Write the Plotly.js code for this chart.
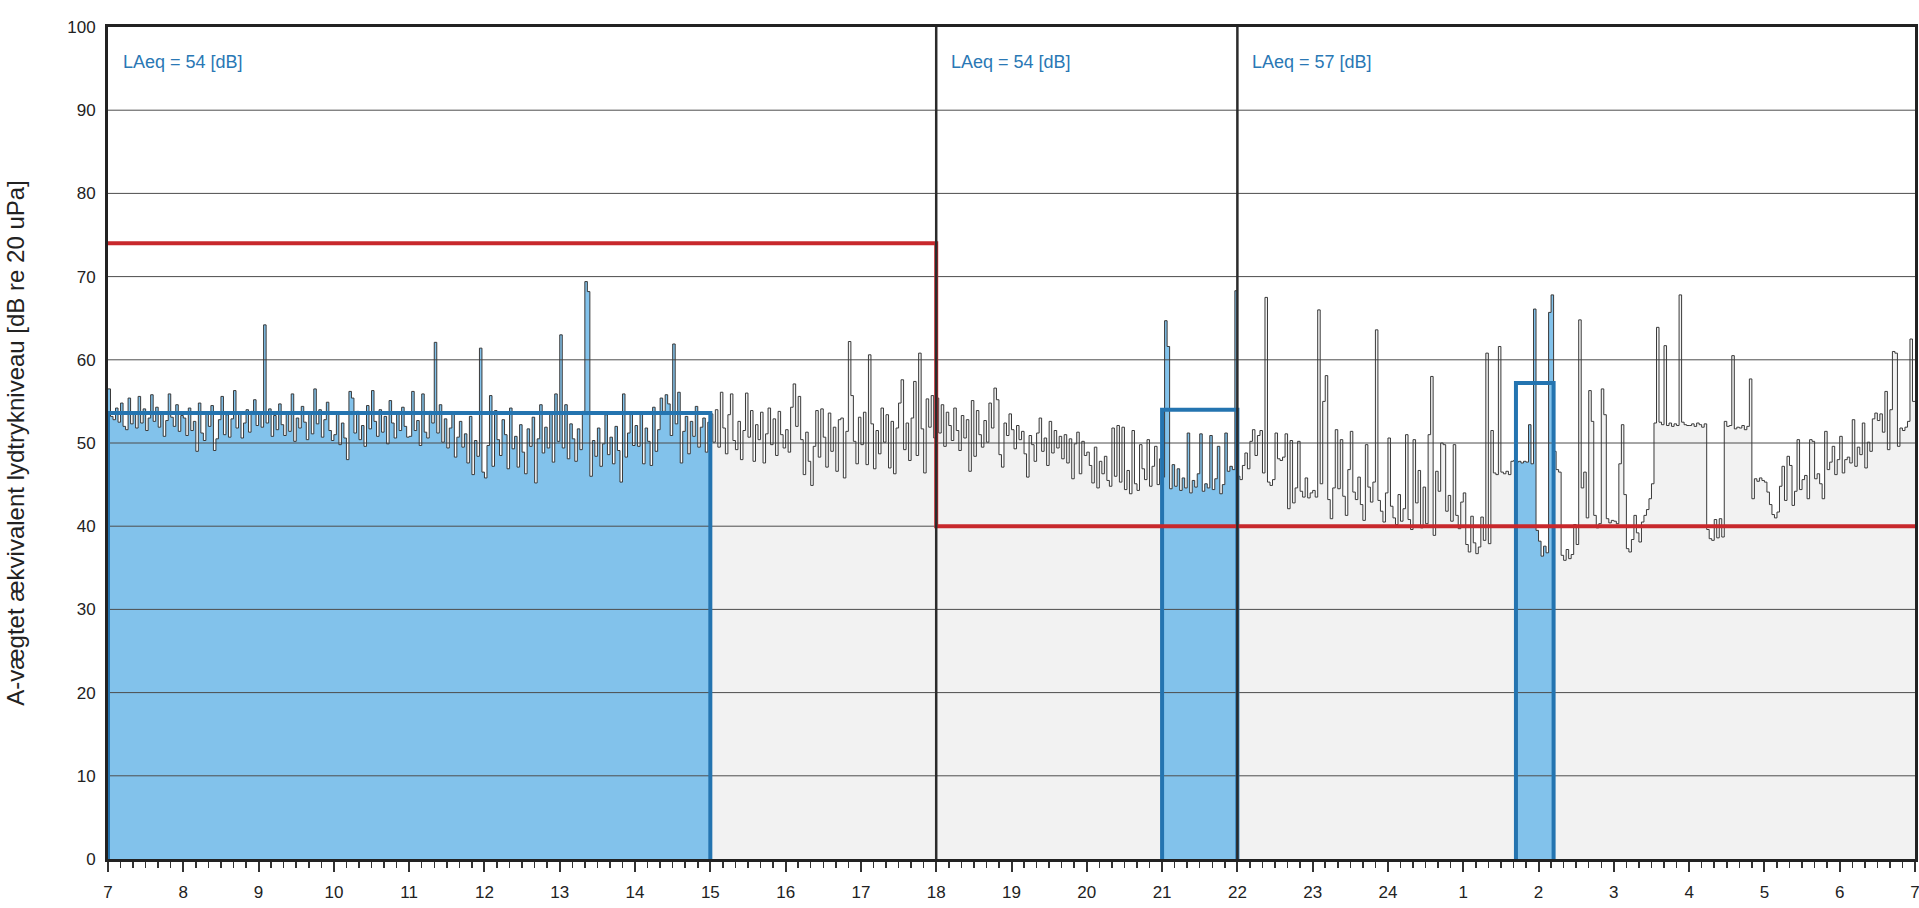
<!DOCTYPE html>
<html>
<head>
<meta charset="utf-8">
<script src="https://cdn.plot.ly/plotly-3.0.1.min.js"></script>
<style>html,body{margin:0;padding:0;background:#fff;}#chart{width:1919px;height:908px;}</style>
</head>
<body>
<div id="chart"></div>
<script>
// ---- data (2-minute LAeq values, dB) ----
const stepsPerHour = 30;
const startHour = 7;

const day1 = [ // 07-11
 56.5,53.2,52.8,54.2,52.5,54.8,52.0,51.6,55.4,52.3,53.7,51.8,55.6,52.4,54.1,51.5,53.0,55.8,52.6,54.3,51.9,53.5,50.8,52.7,55.9,53.1,52.0,54.6,51.4,53.3,
 53.0,50.9,54.2,51.5,52.6,49.0,54.8,51.2,50.3,53.7,52.0,54.5,49.1,50.5,52.8,55.6,51.0,53.4,50.7,52.9,56.3,51.8,53.5,50.6,52.4,54.0,51.3,53.8,55.2,52.1,
 53.6,51.9,64.2,52.4,54.1,50.8,53.3,51.6,54.7,52.2,50.9,53.5,51.4,55.9,50.2,53.0,51.8,54.4,52.5,50.4,53.7,51.1,56.5,52.3,54.0,50.7,52.8,54.9,51.5,50.3,
 51.0,53.6,49.8,52.4,50.6,48.0,56.2,55.4,51.2,53.8,50.4,52.1,49.6,54.5,51.7,56.3,52.6,50.8,54.0,51.3,53.2,49.9,55.1,52.4,50.6,53.7,51.5,54.3,52.0,50.7
];
const day2 = [ // 11-15
 50.8,56.2,51.5,52.7,49.7,55.9,51.3,50.6,53.8,52.4,62.1,51.2,54.6,50.1,52.9,49.4,51.8,53.5,48.3,50.7,52.6,49.5,51.1,47.6,53.2,46.2,50.3,48.4,61.4,46.5,
 45.8,49.7,55.7,47.2,53.9,50.4,48.5,52.8,51.0,46.9,54.2,49.3,50.8,47.1,52.2,48.9,46.3,51.7,49.6,53.1,45.2,50.5,54.6,48.8,51.9,49.4,53.5,47.7,55.9,50.2,
 63.0,49.4,54.6,48.1,52.3,50.5,47.8,51.7,49.2,53.8,69.4,68.2,46.0,50.3,48.4,51.8,47.2,49.9,53.4,48.6,50.7,47.5,52.0,49.1,45.3,55.9,48.3,51.2,53.6,49.7,
 52.1,49.6,53.5,47.5,51.8,50.2,47.3,54.3,49.0,51.6,55.4,53.8,55.8,54.7,50.9,61.9,52.3,56.1,47.6,51.4,53.2,48.7,52.6,50.8,54.4,49.5,51.9,53.0,48.9,52.5
];
const day3 = [ // 15-18
 53.5,50.1,54.0,49.5,56.1,51.8,48.7,53.4,55.9,50.3,49.2,52.6,48.0,51.5,56.0,50.7,53.9,47.8,52.2,50.4,53.7,47.6,51.1,54.2,49.8,52.9,48.5,53.8,51.0,49.4,
 51.6,48.9,54.3,57.1,52.0,55.6,50.4,46.2,51.3,47.8,44.9,49.6,53.9,48.3,54.1,50.7,47.1,53.6,49.0,51.9,46.6,52.8,53.0,45.8,51.4,62.2,55.7,50.2,47.5,53.1,
 49.8,53.7,47.4,60.6,52.3,46.9,51.5,48.7,54.2,50.1,53.4,47.0,52.6,46.3,51.8,54.8,57.6,49.2,52.4,47.9,53.0,57.4,48.5,60.8,51.7,46.4,55.3,51.9,55.7,50.6
];
const evening = [ // 18-22
 55.4,51.2,54.6,49.6,53.7,52.1,50.3,54.2,51.5,49.1,53.3,50.6,52.8,46.6,55.1,48.4,53.9,51.0,49.5,52.7,50.1,54.8,51.8,56.6,55.2,48.6,47.1,52.4,50.9,53.5,
 51.6,49.3,52.1,50.4,51.4,48.7,45.9,50.9,49.8,47.8,51.2,53.0,49.0,50.6,47.3,52.6,48.8,51.5,49.4,50.8,48.1,51.0,47.6,50.5,45.7,49.9,51.3,46.3,50.2,48.5,
 48.9,47.3,45.2,49.5,44.6,47.8,46.3,48.4,45.5,44.8,51.8,46.0,52.1,45.3,51.9,44.4,46.7,43.9,51.5,45.1,44.3,49.8,46.9,45.6,50.4,44.8,47.2,49.6,45.0,48.1,
 45.9,64.7,61.6,44.5,47.4,44.8,46.9,44.3,45.8,44.6,51.2,44.0,45.5,44.7,46.3,51.1,44.2,45.1,44.6,50.9,44.4,45.7,49.6,43.9,45.0,51.2,46.6,47.2,46.8,68.3
];
const night1 = [ // 22-01
 46.0,45.6,47.3,48.8,46.9,50.2,51.6,48.5,50.9,51.5,46.4,67.5,45.3,44.9,45.6,51.2,48.1,47.9,48.3,51.1,42.1,50.3,42.8,44.6,50.2,44.2,43.5,45.8,43.4,44.0,
 44.3,43.5,66.0,45.1,55.0,58.1,43.2,40.9,44.6,51.6,44.5,50.4,43.6,41.3,46.8,51.4,44.1,43.2,45.9,42.6,40.7,49.8,44.7,42.9,45.3,63.6,43.1,41.8,40.5,44.0,
 50.6,42.4,41.0,40.2,43.8,40.6,42.1,51.0,40.8,39.6,50.4,42.8,46.7,39.8,44.7,40.3,51.0,58.0,38.9,46.6,44.2,50.0,49.8,41.8,43.7,40.6,49.8,41.3,39.7,42.9
];
const night2 = [ // 01-04
 44.0,37.8,36.9,41.2,38.0,36.7,37.5,41.1,38.3,60.8,37.9,51.5,46.4,46.2,61.6,46.5,46.3,46.6,46.2,47.8,47.9,47.7,47.8,47.6,47.8,47.7,52.2,47.5,66.1,39.5,
 38.2,36.4,37.6,36.8,65.7,67.8,49.0,46.8,46.5,36.5,35.9,37.2,36.1,36.6,40.2,37.8,64.8,44.6,46.5,41.0,56.3,52.6,41.3,39.8,40.3,56.5,53.4,40.9,40.4,40.7,
 40.6,40.3,47.5,52.2,43.8,37.3,36.9,38.4,41.3,39.2,38.1,40.5,41.3,42.0,43.3,45.1,52.4,63.9,52.5,52.2,61.7,52.1,52.4,52.0,52.3,52.1,67.8,52.5,52.2,52.1
];
const night3 = [ // 04-07
 52.1,52.3,52.0,52.4,52.2,51.9,52.3,39.6,38.5,38.3,40.8,38.6,40.9,38.7,52.6,52.0,52.1,60.5,51.7,51.9,51.8,52.1,51.6,52.0,57.7,43.3,45.7,45.4,45.8,45.5,
 45.3,44.1,42.6,41.4,41.0,41.7,44.8,47.2,43.1,48.4,47.3,42.5,44.2,50.4,44.4,45.6,46.1,43.3,50.4,50.2,45.7,46.3,45.1,43.3,51.4,46.8,47.7,49.6,46.2,48.0,
 50.8,46.4,48.0,48.3,47.6,52.8,47.2,49.5,48.6,52.4,47.0,50.1,49.0,52.9,53.6,52.7,53.5,51.3,56.2,49.2,54.0,61.0,60.8,49.6,51.8,51.5,51.9,52.6,62.5,55.0
];

// LAeq rating periods (start, end in hours since midnight of day 1), level, label
const laeqStart = [7, 21, 25.7];
const laeqEnd = [15, 22, 26.2];
const laeqLevel = [53.6, 54, 57.2];
const periodStarts = [7, 18, 22];
const periodLabels = ['LAeq = 54 [dB]', 'LAeq = 54 [dB]', 'LAeq = 57 [dB]'];
const periodBounds = [18, 22];

// limit line
const limitX = [7, 18, 31];
const limitY = [74, 40, 40];

// axes
const tickLabels = ['7','8','9','10','11','12','13','14','15','16','17','18','19','20','21','22','23','24','1','2','3','4','5','6','7'];
const yGrid = [10, 20, 30, 40, 50, 60, 70, 80, 90];
const yTicks = [0, 10, 20, 30, 40, 50, 60, 70, 80, 90, 100];

// ---- build ----
const levels = [].concat(day1, day2, day3, evening, night1, night2, night3);
const times = levels.map((v, i) => startHour + i / stepsPerHour);
const endHour = startHour + tickLabels.length - 1;
const tX = times.concat([endHour]);
const tY = levels.concat([levels[levels.length - 1]]);

const FILL_BLUE = '#82c2eb';
const LINE_BLUE = '#2474b0';

const traces = [];
// light grey area under the whole curve
traces.push({x: tX, y: tY, type: 'scatter', mode: 'lines', line: {width: 0, shape: 'hv'},
  fill: 'tozeroy', fillcolor: '#f2f2f2', hoverinfo: 'skip'});
// blue area under the curve in the LAeq periods
laeqStart.forEach((a, k) => {
  const b = laeqEnd[k];
  const iA = Math.round((a - startHour) * stepsPerHour);
  const iB = Math.round((b - startHour) * stepsPerHour);
  const xs = times.slice(iA, iB).concat([b]);
  const ys = levels.slice(iA, iB).concat([levels[iB - 1]]);
  traces.push({x: xs, y: ys, type: 'scatter', mode: 'lines', line: {width: 0, shape: 'hv'},
    fill: 'tozeroy', fillcolor: FILL_BLUE, hoverinfo: 'skip'});
});
// grid lines (above the fills)
const gx = [], gy = [];
yGrid.forEach(v => { gx.push(startHour, endHour, null); gy.push(v, v, null); });
traces.push({x: gx, y: gy, type: 'scatter', mode: 'lines', line: {color: '#4d4d4d', width: 1}, hoverinfo: 'skip'});
// data line
traces.push({x: tX, y: tY, type: 'scatter', mode: 'lines', line: {color: '#3a3a3a', width: 1, shape: 'hv'}, hoverinfo: 'skip'});
// LAeq outlines
laeqStart.forEach((a, k) => {
  const b = laeqEnd[k], L = laeqLevel[k];
  traces.push({x: [a, a, b, b], y: [0, L, L, 0], type: 'scatter', mode: 'lines',
    line: {color: LINE_BLUE, width: 4}, hoverinfo: 'skip'});
});
// limit line
traces.push({x: limitX, y: limitY, type: 'scatter', mode: 'lines', line: {color: '#c8282c', width: 4, shape: 'hv'}, hoverinfo: 'skip'});
// period dividers
const dx = [], dy = [];
periodBounds.forEach(v => { dx.push(v, v, null); dy.push(0, 100, null); });
traces.push({x: dx, y: dy, type: 'scatter', mode: 'lines', line: {color: '#2b2b2b', width: 2.5}, hoverinfo: 'skip'});

const annotations = periodStarts.map((s, k) => ({
  x: s, y: 95.8, xref: 'x', yref: 'y', text: periodLabels[k], showarrow: false,
  xanchor: 'left', yanchor: 'middle', xshift: 13,
  font: {family: 'Liberation Sans, Arial, sans-serif', size: 18, color: '#2a78b5'}
}));

const layout = {
  width: 1919, height: 908,
  margin: {l: 108, r: 4, t: 27, b: 49},
  paper_bgcolor: '#ffffff', plot_bgcolor: '#ffffff',
  showlegend: false, hovermode: false,
  font: {family: 'Liberation Sans, Arial, sans-serif', color: '#222'},
  xaxis: {
    range: [startHour, endHour], showgrid: false, zeroline: false,
    tickvals: tickLabels.map((t, i) => startHour + i), ticktext: tickLabels,
    ticks: 'outside', ticklen: 10, tickwidth: 2, tickcolor: '#333',
    minor: {dtick: 1 / 6, tick0: startHour, ticks: 'outside', ticklen: 6, tickwidth: 1.5, tickcolor: '#333'},
    showline: true, mirror: true, linewidth: 3, linecolor: '#222',
    tickfont: {size: 17, color: '#222'}, ticklabelstandoff: 6, ticklabeloverflow: 'allow'
  },
  yaxis: {
    range: [0, 100], showgrid: false, zeroline: false,
    tickvals: yTicks, ticks: '',
    showline: true, mirror: true, linewidth: 3, linecolor: '#222',
    tickfont: {size: 17, color: '#222'}, ticklabelstandoff: 6,
    title: {text: 'A-vægtet ækvivalent lydtrykniveau [dB re 20 uPa]', font: {size: 24, color: '#222'}, standoff: 36}
  },
  annotations: annotations
};

Plotly.newPlot('chart', traces, layout, {staticPlot: true, displayModeBar: false});
</script>
</body>
</html>
